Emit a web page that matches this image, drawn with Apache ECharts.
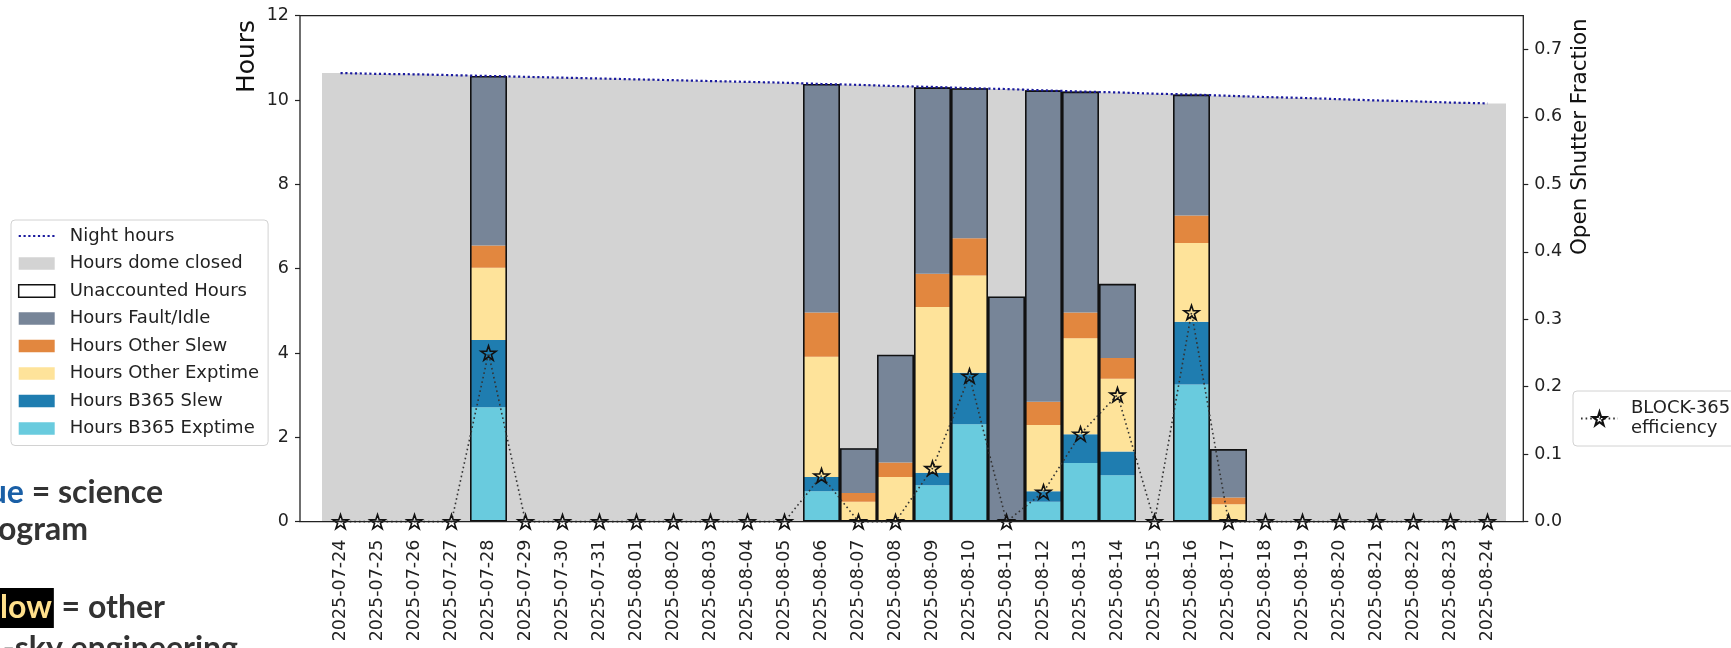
<!DOCTYPE html>
<html><head><meta charset="utf-8">
<script src="https://cdn.jsdelivr.net/npm/echarts@6/dist/echarts.min.js"></script>
<style>html,body{margin:0;padding:0;background:#fff}#c{width:1731px;height:648px}</style>
</head><body><div id="c"></div><script>
// ---- data (hours unless noted) ----
const dates = ['2025-07-24','2025-07-25','2025-07-26','2025-07-27','2025-07-28','2025-07-29','2025-07-30','2025-07-31',
  '2025-08-01','2025-08-02','2025-08-03','2025-08-04','2025-08-05','2025-08-06','2025-08-07','2025-08-08',
  '2025-08-09','2025-08-10','2025-08-11','2025-08-12','2025-08-13','2025-08-14','2025-08-15','2025-08-16',
  '2025-08-17','2025-08-18','2025-08-19','2025-08-20','2025-08-21','2025-08-22','2025-08-23','2025-08-24'];
const nightHours = [10.64,10.62,10.61,10.59,10.57,10.55,10.53,10.51,10.49,10.47,10.45,10.43,10.41,10.38,10.36,10.33,
  10.31,10.28,10.26,10.23,10.20,10.18,10.15,10.13,10.10,10.07,10.05,10.02,9.99,9.97,9.94,9.92];
const b365Exptime = [0,0,0,0,2.71,0,0,0,0,0,0,0,0,0.72,0,0,0.86,2.31,0,0.47,1.39,1.10,0,3.25,0,0,0,0,0,0,0,0];
const b365Slew    = [0,0,0,0,1.60,0,0,0,0,0,0,0,0,0.34,0,0,0.30,1.22,0,0.25,0.68,0.56,0,1.49,0,0,0,0,0,0,0,0];
const otherExptime= [0,0,0,0,1.71,0,0,0,0,0,0,0,0,2.85,0.47,1.06,3.93,2.31,0,1.57,2.28,1.73,0,1.87,0.41,0,0,0,0,0,0,0];
const otherSlew   = [0,0,0,0,0.53,0,0,0,0,0,0,0,0,1.05,0.21,0.34,0.79,0.88,0,0.55,0.61,0.49,0,0.65,0.16,0,0,0,0,0,0,0];
const faultIdle   = [0,0,0,0,4.02,0,0,0,0,0,0,0,0,5.42,1.06,2.56,4.42,3.56,5.34,7.39,5.24,1.76,0,2.87,1.15,0,0,0,0,0,0,0];
const domeClosed  = [10.64,10.62,10.61,10.59,0,10.55,10.53,10.51,10.49,10.47,10.45,10.43,10.41,0,8.62,6.37,
  0,0,4.92,0,0,4.54,10.15,0,8.38,10.07,10.05,10.02,9.99,9.97,9.94,9.92];
const unaccountedOutline = ['-','-','-','-',10.57,'-','-','-','-','-','-','-','-',10.38,1.74,3.96,
  10.30,10.28,5.34,10.23,10.20,5.64,'-',10.13,1.72,'-','-','-','-','-','-','-'];
// open shutter fraction (right axis)
const efficiency = [0,0,0,0,0.25,0,0,0,0,0,0,0,0,0.068,0,0,0.079,0.216,0,0.044,0.13,0.188,0,0.31,0,0,0,0,0,0,0,0];
const leftTicks = [0,2,4,6,8,10,12];
const rightTicks = [0,0.1,0.2,0.3,0.4,0.5,0.6,0.7];

const FONT = 'DejaVu Sans';
const COL = {b365Exp:'#69CBDE', b365Slew:'#1F7DB0', otherExp:'#FEE39A', otherSlew:'#E2873F', fault:'#778598',
  closed:'#D3D3D3', night:'#1a1a9e', eff:'#333'};

function starPath(){
  const pts=[];
  for(let k=0;k<10;k++){
    const r = (k%2)?0.382:1, a = -Math.PI/2 + k*Math.PI/5;
    pts.push((50+50*r*Math.cos(a)).toFixed(2)+' '+(50+50*r*Math.sin(a)).toFixed(2));
  }
  return 'path://M'+pts.join(' L')+' Z';
}
const STAR = starPath();

const chart = echarts.init(document.getElementById('c'), null, {renderer:'canvas'});
const barCommon = {type:'bar', xAxisIndex:0, yAxisIndex:0, barWidth:'100%', barGap:'-100%', barCategoryGap:'0%'};
const option = {
  animation:false,
  backgroundColor:'#fff',
  textStyle:{fontFamily:FONT},
  grid:[
    {left:322, top:15.7, width:1184, height:505.9},
    {left:300, top:15.7, width:1223.3, height:505.9, show:true, borderColor:'#222', borderWidth:1.3,
     backgroundColor:'transparent', z:10}
  ],
  xAxis:[
    {type:'category', data:dates, gridIndex:0, boundaryGap:true, axisLine:{show:false},
     axisTick:{alignWithLabel:true, length:5, interval:0, lineStyle:{color:'#222', width:1.2}},
     axisLabel:{rotate:90, fontSize:17.5, color:'#222', margin:18, interval:0, fontFamily:FONT},
     splitLine:{show:false}},
    {type:'value', gridIndex:1, show:false, min:0, max:1}
  ],
  yAxis:[
    {type:'value', gridIndex:0, min:0, max:12, interval:2, position:'left', offset:22,
     axisLine:{show:false},
     axisTick:{show:true, length:5, customValues:leftTicks, lineStyle:{color:'#222', width:1.2}},
     axisLabel:{fontSize:17.5, color:'#222', margin:11, fontFamily:FONT, customValues:leftTicks},
     splitLine:{show:false}},
    {type:'value', gridIndex:0, min:0, max:0.75, position:'right', offset:17.3,
     axisLine:{show:false},
     axisTick:{show:true, length:5, customValues:rightTicks, lineStyle:{color:'#222', width:1.2}},
     axisLabel:{fontSize:17.5, color:'#222', margin:11, fontFamily:FONT, customValues:rightTicks,
       formatter:v=>Number(v).toFixed(1)},
     splitLine:{show:false}},
    {type:'value', gridIndex:1, show:false, min:0, max:1}
  ],
  legend:[
    {orient:'vertical', left:11, top:220, padding:[7,9,8,6.7], itemGap:9.5, itemWidth:36, itemHeight:12.5,
     selectedMode:false, backgroundColor:'rgba(255,255,255,0.85)', borderColor:'#d2d2d2', borderWidth:1, borderRadius:4,
     textStyle:{fontFamily:FONT, fontSize:18, color:'#222', padding:[0,0,0,10]},
     data:[
       {name:'Night hours', itemStyle:{opacity:0}},
       {name:'Hours dome closed', icon:'rect'},
       {name:'Unaccounted Hours', icon:'rect', itemStyle:{color:'#fff', borderColor:'#111', borderWidth:1.5}},
       {name:'Hours Fault/Idle', icon:'rect'},
       {name:'Hours Other Slew', icon:'rect'},
       {name:'Hours Other Exptime', icon:'rect'},
       {name:'Hours B365 Slew', icon:'rect'},
       {name:'Hours B365 Exptime', icon:'rect'}
     ]},
    {orient:'vertical', left:1573, top:391, padding:[8,20,8,7], itemWidth:37, itemHeight:17,
     selectedMode:false, backgroundColor:'#fff', borderColor:'#d2d2d2', borderWidth:1, borderRadius:4,
     textStyle:{fontFamily:FONT, fontSize:18, color:'#222', lineHeight:19.5, padding:[0,0,0,8]},
     formatter:()=> 'BLOCK-365\nefficiency',
     data:[{name:'BLOCK-365 efficiency'}]}
  ],
  graphic:[
    {type:'text', x:247.5, y:56.5, rotation:Math.PI/2, z:20,
     style:{text:'Hours', font:'25px "DejaVu Sans"', fill:'#111', align:'center', verticalAlign:'middle'}},
    {type:'text', x:1580, y:136.7, rotation:Math.PI/2, z:20,
     style:{text:'Open Shutter Fraction', font:'21.5px "DejaVu Sans"', fill:'#111', align:'center', verticalAlign:'middle'}},
    {type:'text', x:163, y:493, z:20,
     style:{text:'{b|ue} = science', align:'right', verticalAlign:'middle', font:'bold 32px Lato', fill:'#333',
       rich:{b:{fill:'#1a5fa6', font:'bold 32px Lato'}}}},
    {type:'text', x:88, y:530, z:20,
     style:{text:'ogram', align:'right', verticalAlign:'middle', font:'bold 32px Lato', fill:'#333'}},
    {type:'text', x:165, y:608, z:20,
     style:{text:'{y|llow} = other', align:'right', verticalAlign:'middle', font:'bold 32px Lato', fill:'#333',
       rich:{y:{fill:'#FFE08C', font:'bold 32px Lato', backgroundColor:'#000', padding:[4,2,4,0]}}}},
    {type:'text', x:238, y:649, z:20,
     style:{text:'-sky engineering', align:'right', verticalAlign:'middle', font:'bold 32px Lato', fill:'#333'}}
  ],
  series:[
    Object.assign({name:'Hours B365 Exptime', stack:'h', data:b365Exptime, itemStyle:{color:COL.b365Exp}}, barCommon),
    Object.assign({name:'Hours B365 Slew', stack:'h', data:b365Slew, itemStyle:{color:COL.b365Slew}}, barCommon),
    Object.assign({name:'Hours Other Exptime', stack:'h', data:otherExptime, itemStyle:{color:COL.otherExp}}, barCommon),
    Object.assign({name:'Hours Other Slew', stack:'h', data:otherSlew, itemStyle:{color:COL.otherSlew}}, barCommon),
    Object.assign({name:'Hours Fault/Idle', stack:'h', data:faultIdle, itemStyle:{color:COL.fault}}, barCommon),
    Object.assign({name:'Hours dome closed', stack:'h', data:domeClosed, itemStyle:{color:COL.closed}}, barCommon),
    Object.assign({name:'Unaccounted Hours', data:unaccountedOutline, z:3,
      itemStyle:{color:'rgba(255,255,255,0)', borderColor:'#111', borderWidth:1.6}}, barCommon),
    {name:'Night hours', type:'line', xAxisIndex:0, yAxisIndex:0, data:nightHours, symbol:'none', z:4,
     lineStyle:{color:COL.night, width:2.2, type:[2.2,2.6]}, itemStyle:{color:COL.night}},
    {name:'BLOCK-365 efficiency', type:'line', xAxisIndex:0, yAxisIndex:1, data:efficiency, z:5, clip:false,
     symbol:STAR, symbolSize:15, symbolKeepAspect:true,
     itemStyle:{color:'rgba(255,255,255,0)', borderColor:'#111', borderWidth:1.6},
     lineStyle:{color:COL.eff, width:1.6, type:[1.6,3]}}
  ]
};
chart.setOption(option);
</script></body></html>
